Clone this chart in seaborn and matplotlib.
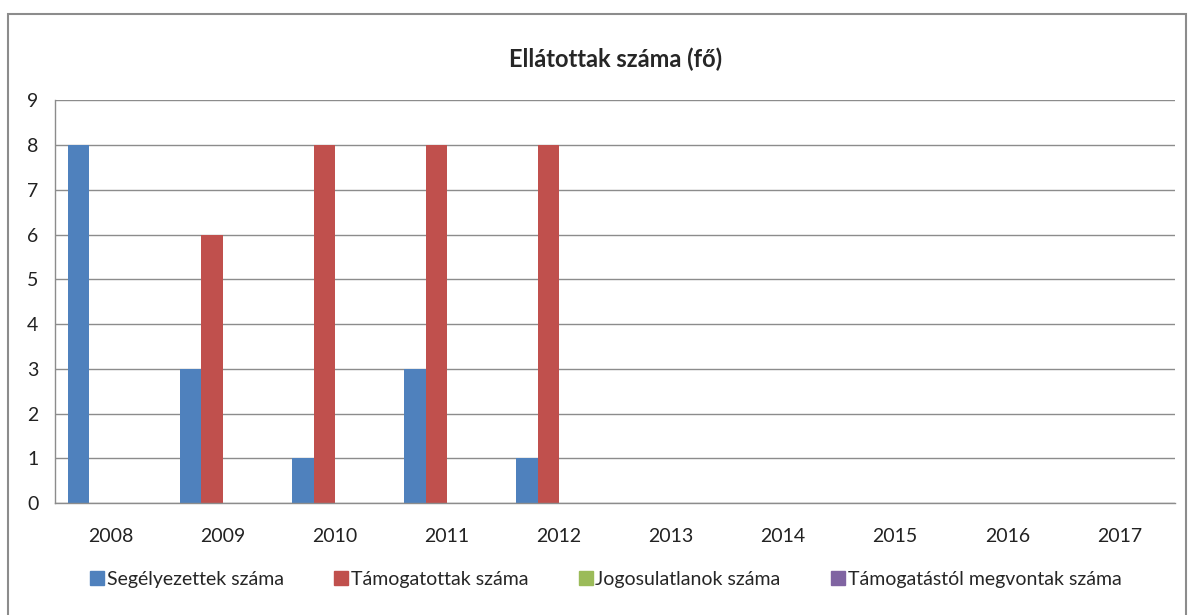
import matplotlib.pyplot as plt
import matplotlib.patches as mpatches
import seaborn as sns
import pandas as pd

# adatok
evek = ["2008", "2009", "2010", "2011", "2012", "2013", "2014", "2015", "2016", "2017"]
segelyezettek = [8, 3, 1, 3, 1, 0, 0, 0, 0, 0]
tamogatottak = [0, 6, 8, 8, 8, 0, 0, 0, 0, 0]
jogosulatlanok = [0, 0, 0, 0, 0, 0, 0, 0, 0, 0]
megvontak = [0, 0, 0, 0, 0, 0, 0, 0, 0, 0]
sorozatok = ["Segélyezettek száma", "Támogatottak száma",
             "Jogosulatlanok száma", "Támogatástól megvontak száma"]
szinek = ["#4F81BD", "#C0504D", "#9BBB59", "#8064A2"]

sns.set_style("white")
plt.rcParams["font.family"] = ["Lato", "DejaVu Sans"]

df = pd.DataFrame({
    "ev": evek * 4,
    "ertek": segelyezettek + tamogatottak + jogosulatlanok + megvontak,
    "sorozat": sum([[s] * len(evek) for s in sorozatok], []),
})

fig = plt.figure(figsize=(11.88, 6.15), dpi=100)
ax = fig.add_axes([0.0463, 0.182, 0.943, 0.655])

sns.barplot(data=df, x="ev", y="ertek", hue="sorozat", palette=szinek,
            saturation=1, width=0.77, linewidth=0, ax=ax, legend=False)

ax.set_ylim(0, 9)
ax.set_xlim(-0.5, len(evek) - 0.5)
ax.set_yticks(range(10))
ax.yaxis.grid(True, color="#8c8c8c", linewidth=1)
ax.set_axisbelow(True)
ax.set_xlabel("")
ax.set_ylabel("")

for side in ["top", "right"]:
    ax.spines[side].set_visible(False)
for side in ["left", "bottom"]:
    ax.spines[side].set_color("#8c8c8c")
    ax.spines[side].set_linewidth(1)

ax.tick_params(axis="y", length=6, color="#8c8c8c", labelsize=14, pad=6, labelcolor="#222222")
ax.tick_params(axis="x", which="major", length=0, labelsize=14, pad=18, labelcolor="#222222")
ax.set_xticks([i - 0.5 for i in range(len(evek) + 1)], minor=True)
ax.tick_params(axis="x", which="minor", length=6, color="#8c8c8c")

ax.set_title("Ellátottak száma (fő)", fontsize=17, fontweight="bold", pad=24)

handles = [mpatches.Patch(color=c, label=s) for c, s in zip(szinek, sorozatok)]
fig.legend(handles=handles, loc="center", bbox_to_anchor=(0.51, 0.058), ncol=4,
           frameon=False, fontsize=14, handlelength=0.7, handleheight=0.7,
           handletextpad=0.15, columnspacing=2.6)

# külső keret
fig.patches.append(mpatches.Rectangle((8 / 1188, -0.02), 1178 / 1188, 1 - 14 / 615 + 0.02,
                                      transform=fig.transFigure, fill=False,
                                      edgecolor="#8c8c8c", linewidth=1.5))

fig.savefig("out.png", dpi=100)
